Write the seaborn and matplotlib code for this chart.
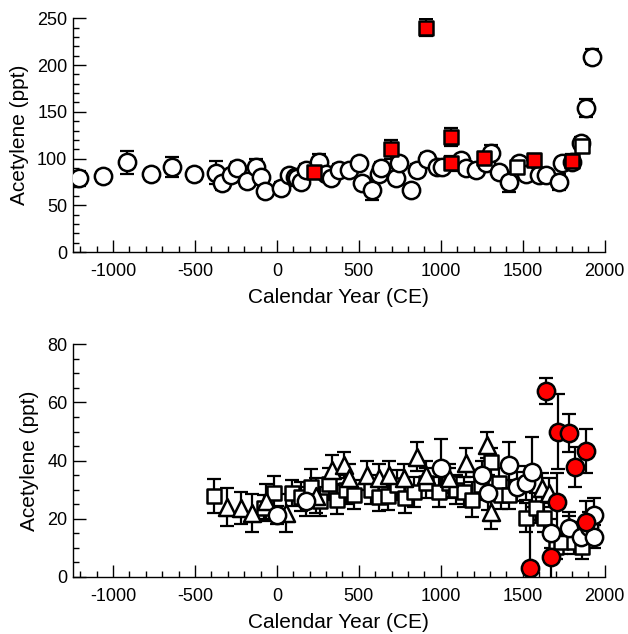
import numpy as np
import matplotlib
matplotlib.use("Agg")
import matplotlib.pyplot as plt
import seaborn as sns
from matplotlib.ticker import MultipleLocator

# ===============================
# Data
# ===============================

# top panel - open circles
top_circ_year = [-1207, -1061, -915, -768, -640, -506, -372, -335, -280, -244, -183, -128,
                 -98, -73, 24, 73, 110, 122, 146, 177, 256, 302, 329, 378, 439, 500, 518,
                 579, 622, 634, 726, 744, 817, 854, 915, 976, 1006, 1122, 1152, 1213, 1274,
                 1305, 1354, 1415, 1476, 1518, 1598, 1640, 1720, 1738, 1799, 1854, 1884, 1921]
top_circ_val = [79, 81, 96, 83, 91, 83, 85, 74, 82, 90, 76, 91,
                80, 65, 69, 82, 80, 79, 75, 88, 96, 83, 79, 88, 88, 95, 74,
                66, 84, 90, 79, 95, 66, 88, 100, 91, 91, 98, 90, 88, 95,
                106, 86, 75, 95, 84, 82, 82, 75, 95, 96, 117, 154, 209]
top_circ_err = [8, 6, 12, 6, 11, 6, 12, 8, 6, 6, 6, 8,
                6, 6, 6, 6, 8, 8, 6, 6, 9, 6, 6, 6, 6, 6, 6,
                10, 6, 6, 6, 6, 6, 6, 6, 6, 6, 6, 6, 6, 6,
                8, 6, 11, 6, 6, 6, 6, 9, 6, 6, 6, 10, 8]

# top panel - open squares
top_sq_year = [1463, 1860]
top_sq_val = [91, 113]
top_sq_err = [6, 6]

# top panel - red squares
top_red_year = [226, 695, 909, 1061, 1061, 1262, 1567, 1799]
top_red_val = [86, 110, 240, 123, 95, 101, 98, 97]
top_red_err = [5, 10, 9, 10, 8, 6, 7, 8]

# bottom panel - open squares
bot_sq_year = [-384, -79, -18, 91, 146, 207, 260, 317, 366, 420, 469, 573, 622, 680,
               732, 780, 835, 909, 988, 1049, 1090, 1140, 1189, 1244, 1305, 1354, 1366,
               1415, 1518, 1579, 1628, 1701, 1732, 1811, 1860]
bot_sq_val = [27.9, 23.7, 28.9, 28.9, 27.5, 31.0, 26.0, 32.0, 26.5, 30.0, 28.2, 30.0, 27.5, 28.0,
              31.6, 27.0, 29.2, 32.3, 29.2, 32.3, 30.0, 29.2, 26.5, 31.6, 39.5, 32.3, 28.2,
              28.2, 20.3, 23.7, 20.3, 10.3, 12.0, 12.0, 10.3]
bot_sq_err = [5.8, 4.5, 5.8, 4.5, 5.0, 6.0, 5.0, 5.5, 5.0, 5.0, 5.0, 5.0, 5.0, 5.0,
              5.0, 5.0, 5.0, 5.0, 5.0, 5.0, 5.0, 5.0, 6.0, 5.0, 5.0, 5.0, 5.0,
              5.0, 5.0, 5.0, 5.0, 4.0, 4.0, 4.0, 4.0]

# bottom panel - open triangles
bot_tri_year = [-305, -220, -152, -67, 55, 238, 335, 408, 439, 549, 622, 683, 774, 854,
                909, 1049, 1152, 1280, 1305, 1616, 1659, 1780]
bot_tri_val = [24.0, 23.7, 22.0, 26.0, 22.0, 28.0, 36.8, 38.5, 34.0, 35.0, 34.0, 35.0, 34.0, 41.3,
               35.0, 34.0, 39.2, 45.4, 22.4, 30.6, 28.9, 17.2]
bot_tri_err = [6.5, 5.5, 6.5, 6.0, 6.5, 6.0, 5.0, 4.5, 5.0, 5.0, 5.0, 5.0, 5.0, 5.0,
               5.0, 5.0, 5.0, 4.5, 6.0, 5.0, 5.0, 5.0]

# bottom panel - open circles
bot_circ_year = [0, 180, 1000, 1250, 1290, 1415, 1463, 1518, 1555, 1671, 1780, 1854, 1902, 1933, 1933]
bot_circ_val = [21.3, 26.0, 37.5, 35.0, 28.9, 38.5, 31.0, 32.3, 36.1, 15.0, 16.8, 13.8, 17.2, 21.3, 13.8]
bot_circ_err = [3.0, 5.0, 10.0, 5.0, 6.0, 8.0, 5.0, 6.0, 12.0, 5.0, 4.0, 5.0, 5.0, 6.0, 4.0]

# bottom panel - red circles
bot_red_year = [1543, 1640, 1671, 1707, 1713, 1780, 1817, 1884, 1884]
bot_red_val = [3.1, 64.0, 6.9, 25.8, 50.0, 49.6, 37.8, 43.3, 19.0]
bot_red_err = [16.5, 4.5, 8.0, 10.0, 13.0, 6.5, 7.0, 7.5, 7.0]

# ===============================
# Style
# ===============================

sns.set_style("ticks")
plt.rcParams["font.family"] = ["Liberation Sans", "DejaVu Sans"]
plt.rcParams["axes.unicode_minus"] = False
for k in ["text.color", "axes.labelcolor", "xtick.color", "ytick.color", "axes.edgecolor"]:
    plt.rcParams[k] = "black"

fig = plt.figure(figsize=(6.28, 6.34), dpi=100)
ax1 = fig.add_axes([0.116, 0.6025, 0.847, 0.3685])
ax2 = fig.add_axes([0.116, 0.090, 0.847, 0.367])


def draw(ax, x, y, err, marker, face, size):
    ax.errorbar(x, y, yerr=err, fmt="none", ecolor="black", elinewidth=1.6,
                capsize=5, capthick=1.6, zorder=2)
    sns.scatterplot(x=x, y=y, ax=ax, marker=marker, color=face, edgecolor="black",
                    linewidth=1.8, s=size, zorder=3, legend=False)


draw(ax1, top_circ_year, top_circ_val, top_circ_err, "o", "white", 155)
draw(ax1, top_sq_year, top_sq_val, top_sq_err, "s", "white", 100)
draw(ax1, top_red_year, top_red_val, top_red_err, "s", "red", 100)

draw(ax2, bot_sq_year, bot_sq_val, bot_sq_err, "s", "white", 110)
draw(ax2, bot_tri_year, bot_tri_val, bot_tri_err, "^", "white", 150)
draw(ax2, bot_circ_year, bot_circ_val, bot_circ_err, "o", "white", 155)
draw(ax2, bot_red_year, bot_red_val, bot_red_err, "o", "red", 155)

for ax, ymax, ymaj, ymin in [(ax1, 250, 50, 10), (ax2, 80, 20, 5)]:
    ax.set_xlim(-1245, 2000)
    ax.set_ylim(0, ymax)
    ax.xaxis.set_major_locator(MultipleLocator(500))
    ax.xaxis.set_minor_locator(MultipleLocator(100))
    ax.yaxis.set_major_locator(MultipleLocator(ymaj))
    ax.yaxis.set_minor_locator(MultipleLocator(ymin))
    ax.tick_params(which="major", direction="in", length=9, width=1, labelsize=13, pad=8)
    ax.tick_params(which="minor", direction="in", length=4.5, width=1)
    ax.tick_params(axis="y", pad=4)
    for s in ["top", "right"]:
        ax.spines[s].set_visible(False)
    for s in ["left", "bottom"]:
        ax.spines[s].set_linewidth(1)
    ax.set_xlabel("Calendar Year (CE)", fontsize=15, labelpad=6)
    ax.set_ylabel("Acetylene (ppt)", fontsize=15, labelpad=6)

fig.savefig("out.png", dpi=100)
